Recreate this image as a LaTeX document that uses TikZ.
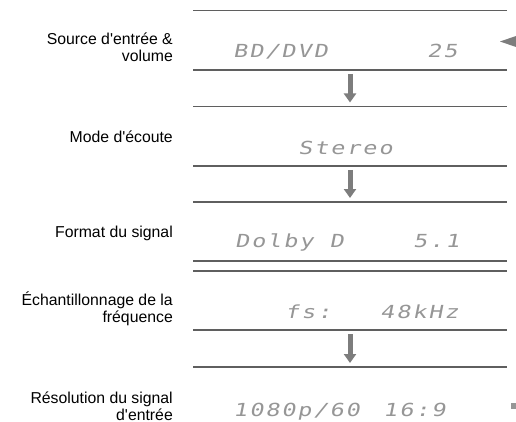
\documentclass[tikz,border=0pt]{standalone}
\usepackage{fontspec}
\setmainfont{Liberation Sans}
\newfontfamily\lcdfont[FakeSlant=0.2,FakeStretch=1.3,LetterSpace=11]{DejaVu Sans Mono}
\usetikzlibrary{arrows.meta}
\definecolor{rulegray}{RGB}{95,95,95}
\definecolor{arrowgray}{RGB}{125,125,125}
\definecolor{lcdgray}{RGB}{150,150,150}
\newcommand{\apos}{\textquotesingle}

\begin{document}
\begin{tikzpicture}[x=1pt,y=-1pt]
\tikzstyle{every node}=[inner sep=0pt]
\tikzstyle{caption}=[anchor=base east, align=right, font=\fontsize{15.8}{17}\selectfont]
\tikzstyle{lcd}=[anchor=base west, text=lcdgray, font=\fontsize{18}{18}\lcdfont]
\tikzstyle{rule}=[draw=rulegray, line width=1.7pt]
\tikzstyle{flow}=[draw=arrowgray, line width=5pt, -{Triangle[width=12pt,length=9pt]}, shorten <=4pt, shorten >=4pt]
\useasboundingbox (0,0) rectangle (516,422);
% display rules
\draw[rule] (193,10.5) -- (507,10.5);
\draw[rule] (193,70) -- (507,70);
\draw[rule] (193,106.5) -- (507,106.5);
\draw[rule] (193,166) -- (507,166);
\draw[rule] (193,202) -- (507,202);
\draw[rule] (193,261) -- (507,261);
\draw[rule] (193,271) -- (507,271);
\draw[rule] (193,330) -- (507,330);
\draw[rule] (193,367) -- (507,367);
\coordinate (r1) at (350,70);
\coordinate (r2) at (350,106.5);
\coordinate (r3) at (350,166);
\coordinate (r4) at (350,202);
\coordinate (r5) at (350,330);
\coordinate (r6) at (350,367);
% captions
\node[caption] (src) at (173,62) {Source d\apos entrée \&\\volume};
\node[caption] (mode) at (173,143) {Mode d\apos écoute};
\node[caption] (fmt) at (173,237) {Format du signal};
\node[caption] (fs) at (173,322) {Échantillonnage de la\\fréquence};
\node[caption] (res) at (173,420) {Résolution du signal\\d\apos entrée};
% display texts
\node[lcd] (bd) at (233,58) {BD/DVD};
\node[lcd] (vol) at (427,58) {25};
\node[lcd] (st) at (298,155) {Stereo};
\node[lcd] (dd) at (235,247) {Dolby D};
\node[lcd] (ch) at (413,247) {5.1};
\node[lcd] (fsk) at (285,318) {fs:};
\node[lcd] (khz) at (380,318) {48kHz};
\node[lcd] (px) at (233,416) {1080p/60};
\node[lcd] (ar) at (383,416) {16:9};
% arrows
\draw[flow] (r1) -- (r2);
\draw[flow] (r3) -- (r4);
\draw[flow] (r5) -- (r6);
\fill[arrowgray] (500,41.5) -- (516,36) -- (516,47) -- cycle;
\fill[lcdgray] (511,403) rectangle (516,409);
\end{tikzpicture}
\end{document}
